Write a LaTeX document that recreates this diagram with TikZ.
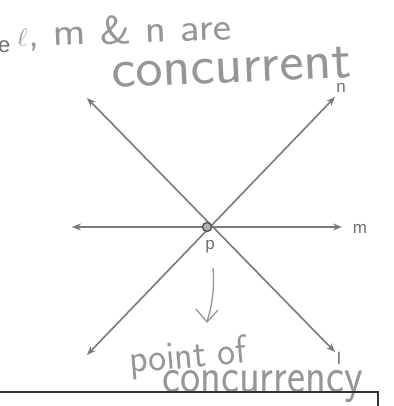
\documentclass[tikz,border=0pt]{standalone}
\usepackage{fontspec}
\newfontfamily\labelfont{Liberation Sans}
\usetikzlibrary{arrows.meta}
\definecolor{linegray}{HTML}{7A7A7A}
\definecolor{labelgray}{HTML}{6E6E6E}
\definecolor{handgray}{HTML}{969696}
\definecolor{dotgray}{HTML}{555555}
\definecolor{boxgray}{HTML}{333333}
\begin{document}
\begin{tikzpicture}[x=1pt,y=-1pt,
  geoline/.style={draw=linegray, line width=1.6pt, {Stealth[length=9pt,width=7pt]}-{Stealth[length=9pt,width=7pt]}},
  lbl/.style={font=\labelfont\fontsize{17}{17}\selectfont, text=labelgray, inner sep=0pt},
  hand/.style={text=handgray, inner sep=0pt, anchor=base west},
  handline/.style={draw=handgray, line width=1.3pt, line cap=round, line join=round},
  boxline/.style={draw=boxgray, line width=1.4pt},
]
\useasboundingbox (0,0) rectangle (393,406);
% handwritten text
\node[hand, rotate=2, font=\sffamily\fontsize{40}{40}\selectfont] (t1) at (17,47) {\scalebox{1.1}[1]{{\fontsize{54}{54}\selectfont$\ell$}, m \& n are}};
\node[hand, rotate=2.6, font=\sffamily\fontsize{56}{56}\selectfont] (t2) at (112,88) {\scalebox{1.03}[1]{concurrent}};
\node[hand, rotate=5, font=\sffamily\fontsize{40}{40}\selectfont] (t3) at (130,373) {\scalebox{0.95}[1]{point of}};
\node[hand, font=\sffamily\fontsize{50}{50}\selectfont] (t4) at (162,392) {\scalebox{0.86}[1]{concurrency}};
% printed text fragment
\node[lbl, font=\labelfont\fontsize{22}{22}\selectfont, anchor=base west] (e) at (-2,53) {e};
% lines
\coordinate (mL) at (72,227);
\coordinate (mR) at (342,227);
\coordinate (nU) at (335,97);
\coordinate (nD) at (87,355);
\coordinate (lU) at (87,98);
\coordinate (lD) at (335,352);
\draw[geoline] (mL) -- (mR);
\draw[geoline] (nD) -- (nU);
\draw[geoline] (lU) -- (lD);
\node[circle, draw=dotgray, fill=linegray!60, line width=1.4pt, minimum size=9pt, inner sep=0pt] (p) at (207,227) {};
% labels
\node[lbl] (nlab) at (341,88) {n};
\node[lbl] (mlab) at (360,229) {m};
\node[lbl] (plab) at (210,247) {p};
\node[lbl] (llab) at (339,358) {l};
% hand-drawn arrow
\coordinate (hs) at (213,268);
\coordinate (ht) at (207,322);
\draw[handline] (hs) .. controls (215,292) and (211,308) .. (ht);
\draw[handline] (ht) -- ++(-11,-13);
\draw[handline] (ht) -- ++(11,-12);
% box edge
\coordinate (b1) at (0,392);
\coordinate (b2) at (378,392);
\coordinate (b3) at (378,406);
\draw[boxline] (b1) -- (b2) -- (b3);
\end{tikzpicture}
\end{document}
